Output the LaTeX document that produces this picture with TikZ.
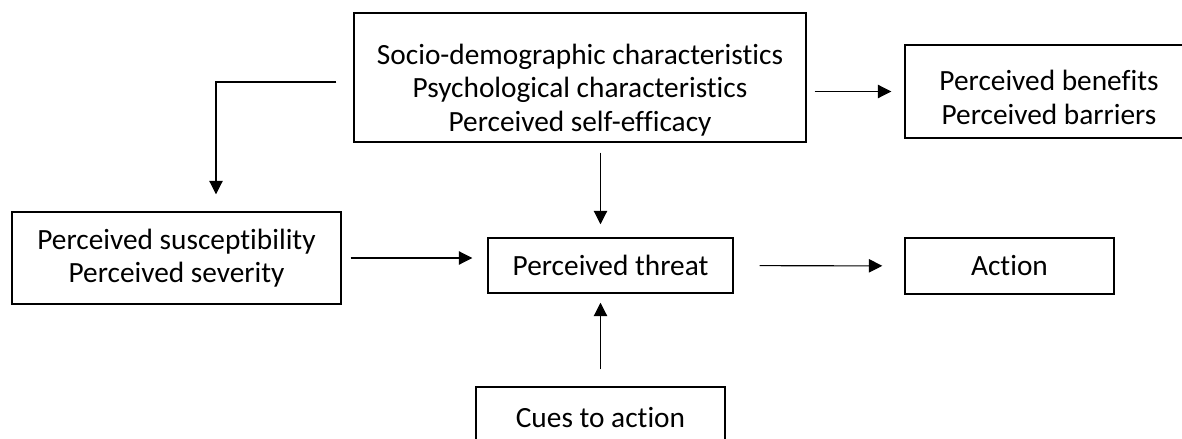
\documentclass[tikz,border=0pt]{standalone}
\usepackage{fontspec}
\setmainfont{Carlito}[Ligatures=NoCommon]
\usetikzlibrary{arrows.meta}

\begin{document}
\begin{tikzpicture}[x=0.75pt,y=-0.75pt,
  box/.style={draw, line width=1.1pt, inner sep=0pt, align=center,
    font=\fontsize{22}{25}\selectfont},
  link/.style={-{Triangle[length=10pt,width=10pt]}, line width=0.8pt}]
\clip (0,0) rectangle (1182,439);

% boxes
\node[box, minimum width=339pt, minimum height=96.75pt] (factors) at (580,77.5)
  {\rule{0pt}{34pt}Socio-demographic characteristics\\Psychological characteristics\\Perceived self-efficacy};
\node[box, minimum width=216pt, minimum height=69.75pt] (benefits) at (1049,91.5)
  {\rule{0pt}{24pt}Perceived benefits\\Perceived barriers};
\node[box, minimum width=246.75pt, minimum height=69pt] (suscept) at (176.5,258)
  {Perceived susceptibility\\Perceived severity};
\node[box, minimum width=183.75pt, minimum height=41.25pt] (threat) at (610.5,265.5)
  {Perceived threat};
\node[box, minimum width=156.75pt, minimum height=42pt] (action) at (1009.5,266)
  {Action};
\node[box, minimum width=186.75pt, minimum height=46.5pt] (cues) at (600.5,418)
  {Cues to action};

\coordinate (bend) at (216,82);

% arrows
\draw[link, shorten <=12.75pt, shorten >=12.75pt] (factors.west |- bend) -- (bend) -- (bend |- suscept.north);
\draw[link, shorten <=6pt, shorten >=9.75pt] (factors.east |- benefits) -- (benefits.west);
\draw[link, shorten <=7.5pt, shorten >=9.75pt] (factors.south -| cues) -- (threat.north -| cues);
\draw[link, shorten <=6.75pt, shorten >=11.25pt] (suscept.east) -- (suscept.east -| threat.west);
\draw[link, shorten <=19.5pt, shorten >=16.5pt] (threat) -- (action);
\draw[link, shorten <=12.75pt, shorten >=6.75pt] (cues.north) -- (cues.north |- threat.south);

\end{tikzpicture}
\end{document}
